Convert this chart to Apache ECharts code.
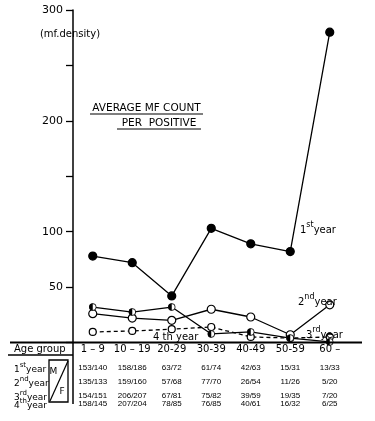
<!DOCTYPE html>
<html><head><meta charset="utf-8">
<script src="https://cdn.jsdelivr.net/npm/echarts@6/dist/echarts.min.js"></script>
<style>html,body{margin:0;padding:0;background:#fff}#c{width:375px;height:421px}</style>
</head><body><div id="c"></div>
<script>
const ageGroups = ['1 – 9', '10 – 19', '20-29', '30-39', '40-49', '50-59', '60 –'];
const year1 = [78, 72, 42, 103, 89, 82, 280];
const year2 = [26, 22, 20, 30, 23, 7, 34];
const year3 = [32, 27.5, 32, 7.7, 9.5, 4, 0.5];
const year4 = [9.5, 10.4, 12, 14, 5, 4, 5];
const yTickLabels = [50, 100, 200, 300];
const mf1 = ['153/140', '158/186', '63/72', '61/74', '42/63', '15/31', '13/33'];
const mf2 = ['135/133', '159/160', '57/68', '77/70', '26/54', '11/26', '5/20'];
const mf3 = ['154/151', '206/207', '67/81', '75/82', '39/59', '19/35', '7/20'];
const mf4 = ['158/145', '207/204', '78/85', '76/85', '40/61', '16/32', '6/25'];

const FONT = 'DejaVu Sans';
const black = '#000';
const tableRows = [mf1, mf2, mf3, mf4];
const rowOffsets = [21, 35, 49, 57];

const halfSvg = "<svg xmlns='http://www.w3.org/2000/svg' width='20' height='20' viewBox='0 0 20 20'>" +
  "<circle cx='10' cy='10' r='8.6' fill='white' stroke='black' stroke-width='2.2'/>" +
  "<path d='M10 1.4 A8.6 8.6 0 0 0 10 18.6 Z' fill='black'/></svg>";
const halfSymbol = 'image://data:image/svg+xml;charset=utf-8,' + encodeURIComponent(halfSvg);

function ln(x1, y1, x2, y2, w) {
  return { type: 'line', shape: { x1, y1, x2, y2 }, style: { stroke: black, lineWidth: w || 1.5 }, z: 10 };
}
function tx(x, y, t, size, align, family) {
  return { type: 'text', x, y, z: 10, style: { text: t, fill: black, fontSize: size, fontFamily: family || FONT, align: align || 'left', verticalAlign: 'middle' } };
}
function sup(x, y, num, s, word, size) {
  const ss = size;
  return { type: 'text', x, y, z: 10, style: {
    text: '{n|' + num + '}{s|' + s + '}{n|' + word + '}', fill: black, align: 'left', verticalAlign: 'middle',
    rich: {
      n: { fontSize: ss, fontFamily: FONT, verticalAlign: 'bottom', lineHeight: ss + 4, fill: black },
      s: { fontSize: Math.round(ss * 0.75), fontFamily: FONT, verticalAlign: 'top', lineHeight: ss + 4, fill: black }
    } } };
}

const chart = echarts.init(document.getElementById('c'), null, { renderer: 'canvas' });
const lineBase = (name, data, symbol, size, dashed) => ({
  name, type: 'line', data, symbol, symbolSize: size, showSymbol: true, animation: false,
  lineStyle: { color: black, width: 1.3, type: dashed ? [4, 3] : 'solid' },
  itemStyle: { color: symbol === 'circle' && name === '1st year' ? black : '#fff', borderColor: black, borderWidth: 1.2 },
  emphasis: { disabled: true }
});

chart.setOption({
  backgroundColor: '#fff',
  animation: false,
  grid: { left: 73, right: 25.5, top: 10, bottom: 78.5, containLabel: false, outerBoundsMode: 'none' },
  xAxis: [
    { type: 'category', data: ageGroups, boundaryGap: true, position: 'bottom',
      axisLine: { show: false }, axisTick: { show: false }, splitLine: { show: false },
      axisLabel: { interval: 0, margin: 2, fontSize: 10, lineHeight: 10, fontFamily: FONT, color: black } }
  ].concat(tableRows.map((row, k) => ({
    type: 'category', data: ageGroups, position: 'bottom', offset: rowOffsets[k],
    axisLine: { show: false }, axisTick: { show: false }, splitLine: { show: false },
    axisLabel: { interval: 0, margin: 0, fontSize: 8, lineHeight: 8, fontFamily: 'Liberation Sans', color: black,
      formatter: (v, i) => row[i] }
  }))),
  yAxis: {
    type: 'value', min: 0, max: 300, interval: 50,
    axisLine: { show: true, lineStyle: { color: black, width: 1.5 } },
    axisTick: { show: true, inside: false, length: 7, lineStyle: { color: black, width: 1.3 } },
    splitLine: { show: false },
    axisLabel: { margin: 10, fontSize: 11, fontFamily: FONT, color: black,
      formatter: v => yTickLabels.indexOf(v) >= 0 ? String(v) : '' }
  },
  series: [
    lineBase('4th year', year4, 'circle', 7, true),
    lineBase('2nd year', year2, 'circle', 8, false),
    lineBase('3rd year', year3, halfSymbol, 8, false),
    lineBase('1st year', year1, 'circle', 8, false)
  ],
  graphic: [
    ln(10, 342.5, 362, 342.5, 1.8),
    ln(8, 355, 73, 355, 1.3),
    ln(73, 342, 73, 404, 1.5),
    { type: 'rect', shape: { x: 49, y: 360, width: 19, height: 42 }, style: { stroke: black, fill: null, lineWidth: 1.3 }, z: 10 },
    ln(50, 401, 68, 361, 1.2),
    tx(53.5, 372, 'M', 9, 'center'),
    tx(62, 392, 'F', 9, 'center'),
    tx(14, 349, 'Age group', 10),
    sup(14, 368, '1', 'st', 'year', 9),
    sup(14, 382, '2', 'nd', 'year', 9),
    sup(14, 396, '3', 'rd', 'year', 9),
    sup(14, 404, '4', 'th', 'year', 9),
    tx(70, 34, '(mf.density)', 10, 'center'),
    tx(146.5, 108, 'AVERAGE MF COUNT', 10.5, 'center'),
    ln(90, 114, 203, 114, 1.2),
    tx(159, 123, 'PER  POSITIVE', 10.5, 'center'),
    ln(117, 129, 201, 129, 1.2),
    sup(300, 228, '1', 'st', 'year', 10),
    sup(298, 300, '2', 'nd', 'year', 10),
    sup(306, 333, '3', 'rd', 'year', 10),
    tx(153, 337, '4 th year', 10)
  ]
});
</script></body></html>
